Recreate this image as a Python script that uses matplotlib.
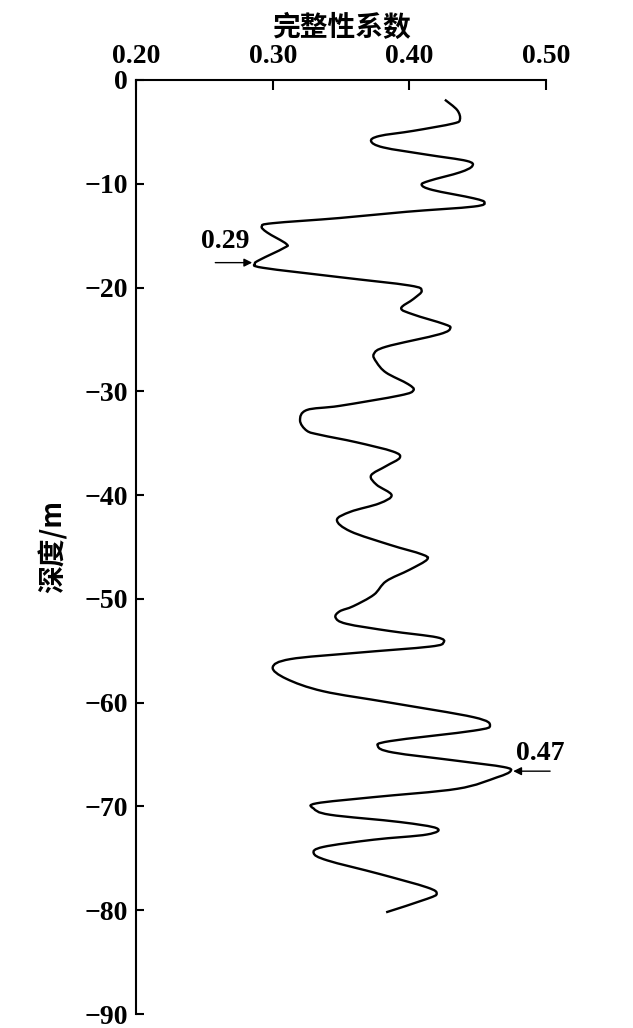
import matplotlib.pyplot as plt
import numpy as np
from matplotlib.path import Path
from matplotlib.patches import PathPatch
from matplotlib.ticker import FixedLocator

# integrity coefficient vs depth
coef = [0.426, 0.435, 0.437, 0.432, 0.403, 0.378, 0.372, 0.381, 0.413, 0.442,
        0.446, 0.437, 0.415, 0.409, 0.417, 0.447, 0.455, 0.447, 0.398, 0.349,
        0.300, 0.292, 0.296, 0.310, 0.308, 0.291, 0.287, 0.293, 0.349, 0.400,
        0.409, 0.403, 0.394, 0.403, 0.425, 0.430, 0.422, 0.383, 0.374, 0.376,
        0.383, 0.399, 0.403, 0.393, 0.349, 0.325, 0.320, 0.325, 0.335, 0.361,
        0.388, 0.393, 0.383, 0.372, 0.376, 0.387, 0.378, 0.357, 0.347, 0.357,
        0.386, 0.409, 0.413, 0.400, 0.383, 0.374, 0.359, 0.349, 0.346, 0.354,
        0.386, 0.420, 0.425, 0.415, 0.361, 0.313, 0.300, 0.310, 0.337, 0.386,
        0.447, 0.459, 0.447, 0.386, 0.377, 0.388, 0.435, 0.469, 0.474, 0.464,
        0.435, 0.374, 0.332, 0.330, 0.342, 0.393, 0.420, 0.413, 0.374, 0.337,
        0.330, 0.340, 0.378, 0.413, 0.420, 0.413, 0.383]
depth = [-1.9, -2.9, -3.8, -4.2, -4.9, -5.4, -5.9, -6.5, -7.2, -7.8,
         -8.3, -8.9, -9.7, -10.1, -10.6, -11.4, -11.8, -12.2, -12.7, -13.3,
         -13.8, -14.1, -14.7, -15.8, -16.2, -17.3, -17.7, -18.1, -19.0, -19.8,
         -20.3, -21.1, -22.0, -22.6, -23.5, -23.9, -24.5, -25.7, -26.4, -27.2,
         -28.2, -29.3, -29.9, -30.4, -31.4, -31.8, -32.8, -33.8, -34.2, -34.9,
         -35.8, -36.4, -37.2, -38.1, -39.0, -40.0, -40.8, -41.6, -42.4, -43.5,
         -44.8, -45.7, -46.2, -47.2, -48.3, -49.6, -50.7, -51.2, -51.8, -52.4,
         -53.1, -53.7, -54.2, -54.6, -55.2, -55.8, -56.6, -57.7, -58.9, -60.0,
         -61.4, -62.2, -62.7, -63.7, -64.2, -64.8, -65.6, -66.2, -66.6, -67.2,
         -68.3, -69.1, -69.7, -70.2, -70.8, -71.5, -72.1, -72.7, -73.2, -73.9,
         -74.5, -75.2, -76.5, -77.8, -78.4, -78.9, -80.2]

xticks = [0.20, 0.30, 0.40, 0.50]
yticks = [0, -10, -20, -30, -40, -50, -60, -70, -80, -90]

serif = ['Liberation Serif', 'DejaVu Serif']
cjk = ['Noto Sans CJK SC', 'DejaVu Sans']

fig = plt.figure(figsize=(6.33, 10.28), dpi=100)
ax = fig.add_axes([0.2149, 0.0136, 0.6477, 0.9086])

P = np.column_stack([coef, depth])
Q = np.vstack([P[0], P, P[-1]])
verts = [P[0]]
codes = [Path.MOVETO]
for i in range(1, len(Q) - 2):
    c1 = Q[i] + (Q[i + 1] - Q[i - 1]) / 6
    c2 = Q[i + 1] - (Q[i + 2] - Q[i]) / 6
    verts += [c1, c2, Q[i + 1]]
    codes += [Path.CURVE4] * 3
ax.add_patch(PathPatch(Path(verts, codes), fill=False, edgecolor='black',
                       lw=1.7, capstyle='butt', joinstyle='round'))

ax.set_xlim(0.20, 0.50)
ax.set_ylim(-90, 0)

for s in ['right', 'bottom']:
    ax.spines[s].set_visible(False)
for s in ['top', 'left']:
    ax.spines[s].set_linewidth(1.5)

ax.xaxis.set_major_locator(FixedLocator(xticks))
ax.yaxis.set_major_locator(FixedLocator(yticks))
ax.xaxis.tick_top()
ax.xaxis.set_label_position('top')
ax.set_xticklabels(['%.2f' % v for v in xticks])
ax.set_yticklabels(['0' if v == 0 else '\u2212%d' % abs(v) for v in yticks])
ax.tick_params(axis='x', direction='in', length=7, width=1.5, pad=8)
ax.tick_params(axis='y', direction='in', length=6, width=1.5, pad=6)
for lab in ax.get_xticklabels() + ax.get_yticklabels():
    lab.set_family(serif)
    lab.set_fontsize(20)
    lab.set_fontweight('bold')

ax.set_xlabel('完整性系数', family=cjk, fontsize=20, fontweight='bold', labelpad=6)
ax.set_ylabel('深度/m', family=cjk, fontsize=20, fontweight='bold', labelpad=12)

# annotations for min and max values
arrow = dict(arrowstyle='-|>', color='black', lw=1.0, mutation_scale=12,
             shrinkA=0, shrinkB=0)
ax.annotate('', xy=(0.285, -17.6), xytext=(0.258, -17.6), arrowprops=arrow)
ax.text(0.265, -15.6, '0.29', family=serif, fontsize=20, fontweight='bold',
        ha='center', va='center')
ax.annotate('', xy=(0.476, -66.6), xytext=(0.503, -66.6), arrowprops=arrow,
            annotation_clip=False)
ax.text(0.4955, -64.9, '0.47', family=serif, fontsize=20, fontweight='bold',
        ha='center', va='center')

fig.savefig('out.png', dpi=100)
